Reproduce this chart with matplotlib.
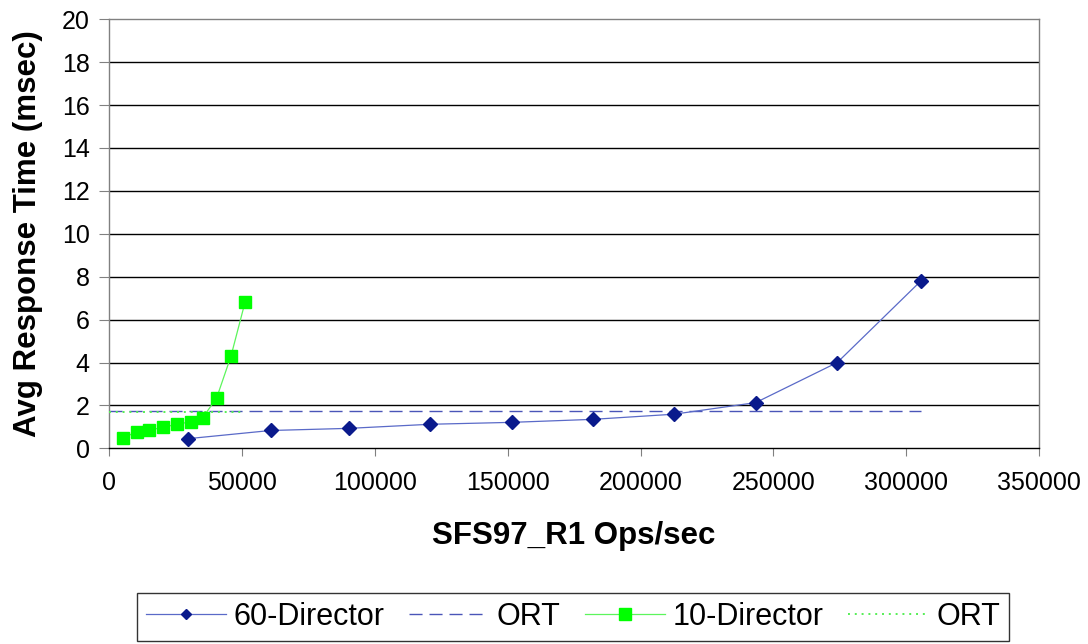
import matplotlib
matplotlib.use("Agg")
import matplotlib.pyplot as plt

plt.rcParams['font.family'] = ['Liberation Sans', 'DejaVu Sans']

# Throughput (ops/sec) and average response time (msec) per configuration
ops_60 = [29800, 60800, 90300, 120800, 151600, 182100, 212600, 243300, 274000, 305600]
rt_60 = [0.45, 0.83, 0.93, 1.12, 1.21, 1.35, 1.59, 2.13, 4.00, 7.82]
ort_60 = 1.76

ops_10 = [5100, 10400, 14900, 20300, 25600, 30800, 35300, 40500, 45900, 51200]
rt_10 = [0.48, 0.76, 0.85, 0.97, 1.13, 1.23, 1.43, 2.35, 4.30, 6.82]
ort_10 = 1.68

x_ticks = [0, 50000, 100000, 150000, 200000, 250000, 300000, 350000]
y_ticks = [0, 2, 4, 6, 8, 10, 12, 14, 16, 18, 20]

W, H = 1088, 644
fig = plt.figure(figsize=(W / 100, H / 100), dpi=100)
left, right, top, bottom = 109, 1039.3, 19.3, 448.3
ax = fig.add_axes([left / W, 1 - bottom / H, (right - left) / W, (bottom - top) / H])

blue_line = '#5a6ac8'
blue_mark = '#0a1a8c'
green_line = '#5cf55c'
green_mark = '#00ff00'

ax.plot(ops_60, rt_60, color=blue_line, lw=0.9, marker='D', ms=7.2,
        mfc=blue_mark, mec=blue_mark, label='60-Director', zorder=4)
ax.plot([0, max(ops_60)], [ort_60, ort_60], color='#4a55b8', lw=1.0,
        linestyle=(0, (9.4, 5.0)), label='ORT', zorder=3)
ax.plot(ops_10, rt_10, color=green_line, lw=0.9, marker='s', ms=8.2,
        mfc=green_mark, mec=green_mark, label='10-Director', zorder=5)
ax.plot([0, max(ops_10)], [ort_10, ort_10], color='#55ee55', lw=1.4,
        linestyle=(0, (1, 2.5)), label='ORT', zorder=3)

ax.set_xlim(0, 350000)
ax.set_ylim(0, 20)
ax.set_xticks(x_ticks)
ax.set_xticklabels([str(v) for v in x_ticks])
ax.set_yticks(y_ticks)
ax.set_yticklabels([str(v) for v in y_ticks])

for y in y_ticks[1:-1]:
    ax.axhline(y, color='black', lw=1.0, zorder=1)

for side in ['top', 'right', 'left']:
    ax.spines[side].set_color('#808080')
    ax.spines[side].set_linewidth(1.0)
ax.spines['bottom'].set_color('black')
ax.spines['bottom'].set_linewidth(1.0)

ax.tick_params(axis='both', direction='out', labelsize=18, colors='black')
ax.tick_params(axis='x', length=6, pad=10, color='#808080')
ax.tick_params(axis='y', length=7, pad=7, color='#808080')

ax.set_xlabel('SFS97_R1 Ops/sec', fontsize=22.5, fontweight='bold', va='center')
ax.xaxis.set_label_coords(0.5, (bottom - 535.8) / (bottom - top))
ax.set_ylabel('Avg Response Time (msec)', fontsize=22.5, fontweight='bold',
              va='center', ha='center')
ax.yaxis.set_label_coords((28 - left) / (right - left), 0.5)

leg = fig.legend(loc='center', bbox_to_anchor=(573 / W, 1 - 617 / H), ncol=4,
                 fontsize=22, frameon=True, fancybox=False, edgecolor='black',
                 handlelength=2.6, handletextpad=0.27, columnspacing=0.8,
                 borderpad=0.3, borderaxespad=0)
leg.get_frame().set_linewidth(1.0)
leg.legend_handles[0].set_markersize(5.0)

fig.savefig('out.png', dpi=100)
